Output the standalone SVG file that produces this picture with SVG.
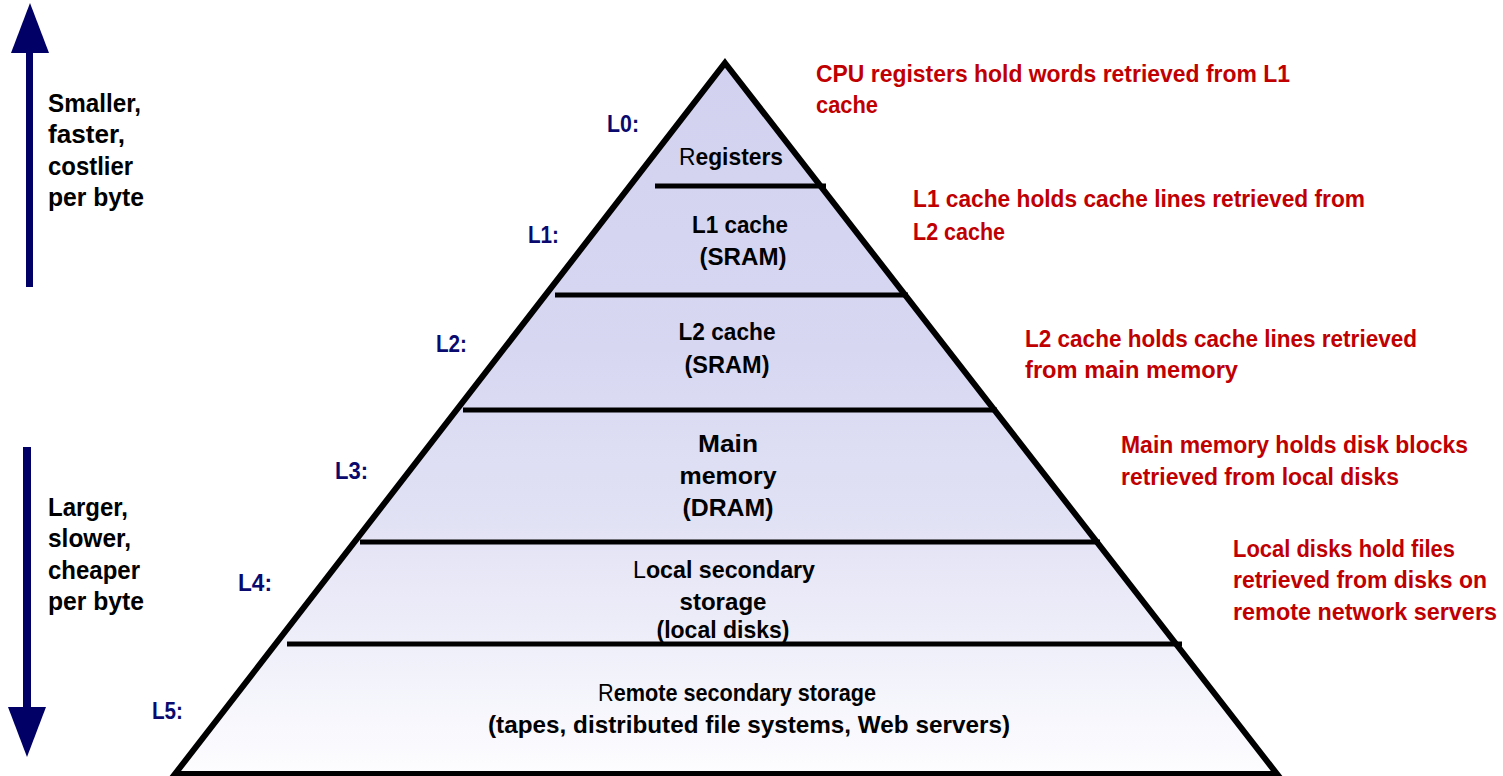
<svg xmlns="http://www.w3.org/2000/svg" width="1503" height="776" viewBox="0 0 1503 776">
<defs>
<linearGradient id="pyrFill" x1="0" y1="63" x2="0" y2="774" gradientUnits="userSpaceOnUse">
<stop offset="0" stop-color="#d2d2f0"/>
<stop offset="0.4" stop-color="#d7d7f2"/>
<stop offset="0.65" stop-color="#e2e2f5"/>
<stop offset="1" stop-color="#fdfdff"/>
</linearGradient>
<style>
text{font-family:"Liberation Sans",Arial,sans-serif;font-weight:bold}
.lvl{font-size:24px;fill:#000;text-anchor:middle}
.note{font-size:24px;fill:#c00000}
.side{font-size:25px;fill:#000}
.lab{font-size:24px;fill:#0a0a6e}
.reg{font-weight:normal}
.div{stroke:#000;stroke-width:5;fill:none}
</style>
</defs>
<rect width="1503" height="776" fill="#fff"/>

<g id="pyramid">
<path d="M725,63 L1277,774 L175,774 Z" fill="url(#pyrFill)" stroke="#000" stroke-width="6" stroke-linejoin="miter"/>
<line class="div" x1="655" y1="186" x2="826" y2="186"/>
<line class="div" x1="555" y1="295" x2="908" y2="295"/>
<line class="div" x1="463" y1="410" x2="997" y2="410"/>
<line class="div" x1="360" y1="542" x2="1100" y2="542"/>
<line class="div" x1="287" y1="644" x2="1182" y2="644"/>
</g>

<g id="level-L0">
<text class="lab" x="607" y="132" textLength="32" lengthAdjust="spacingAndGlyphs">L0:</text>
<text class="lvl" x="731" y="165" textLength="104" lengthAdjust="spacingAndGlyphs"><tspan class="reg">R</tspan>egisters</text>
</g>
<g id="level-L1">
<text class="lab" x="528" y="243" textLength="31" lengthAdjust="spacingAndGlyphs">L1:</text>
<text class="lvl" x="740" y="233" textLength="96" lengthAdjust="spacingAndGlyphs">L1 cache</text>
<text class="lvl" x="743" y="265" textLength="87" lengthAdjust="spacingAndGlyphs">(SRAM)</text>
</g>
<g id="level-L2">
<text class="lab" x="436" y="352" textLength="31" lengthAdjust="spacingAndGlyphs">L2:</text>
<text class="lvl" x="727" y="340" textLength="97" lengthAdjust="spacingAndGlyphs">L2 cache</text>
<text class="lvl" x="727" y="373" textLength="85" lengthAdjust="spacingAndGlyphs">(SRAM)</text>
</g>
<g id="level-L3">
<text class="lab" x="335" y="479" textLength="33" lengthAdjust="spacingAndGlyphs">L3:</text>
<text class="lvl" x="728" y="452" textLength="60" lengthAdjust="spacingAndGlyphs">Main</text>
<text class="lvl" x="728" y="484" textLength="97" lengthAdjust="spacingAndGlyphs">memory</text>
<text class="lvl" x="728" y="516" textLength="91" lengthAdjust="spacingAndGlyphs">(DRAM)</text>
</g>
<g id="level-L4">
<text class="lab" x="238" y="591" textLength="34" lengthAdjust="spacingAndGlyphs">L4:</text>
<text class="lvl" x="724" y="578" textLength="182" lengthAdjust="spacingAndGlyphs"><tspan class="reg">L</tspan>ocal secondary</text>
<text class="lvl" x="723" y="610" textLength="87" lengthAdjust="spacingAndGlyphs">storage</text>
<text class="lvl" x="723" y="638" textLength="133" lengthAdjust="spacingAndGlyphs">(local disks)</text>
</g>
<g id="level-L5">
<text class="lab" x="152" y="719" textLength="31" lengthAdjust="spacingAndGlyphs">L5:</text>
<text class="lvl" x="737" y="701" textLength="278" lengthAdjust="spacingAndGlyphs"><tspan class="reg">R</tspan>emote secondary storage</text>
<text class="lvl" x="749" y="733" textLength="522" lengthAdjust="spacingAndGlyphs">(tapes, distributed file systems, Web servers)</text>
</g>

<g id="note-L0">
<text class="note" x="816" y="82" textLength="474" lengthAdjust="spacingAndGlyphs">CPU registers hold words retrieved from L1</text>
<text class="note" x="816" y="113" textLength="62" lengthAdjust="spacingAndGlyphs">cache</text>
</g>
<g id="note-L1">
<text class="note" x="913" y="207" textLength="452" lengthAdjust="spacingAndGlyphs">L1 cache holds cache lines retrieved from</text>
<text class="note" x="913" y="240" textLength="92" lengthAdjust="spacingAndGlyphs">L2 cache</text>
</g>
<g id="note-L2">
<text class="note" x="1025" y="347" textLength="392" lengthAdjust="spacingAndGlyphs">L2 cache holds cache lines retrieved</text>
<text class="note" x="1025" y="378" textLength="213" lengthAdjust="spacingAndGlyphs">from main memory</text>
</g>
<g id="note-L3">
<text class="note" x="1121" y="453" textLength="347" lengthAdjust="spacingAndGlyphs">Main memory holds disk blocks</text>
<text class="note" x="1121" y="485" textLength="278" lengthAdjust="spacingAndGlyphs">retrieved from local disks</text>
</g>
<g id="note-L4">
<text class="note" x="1233" y="557" textLength="222" lengthAdjust="spacingAndGlyphs">Local disks hold files</text>
<text class="note" x="1233" y="588" textLength="254" lengthAdjust="spacingAndGlyphs">retrieved from disks on</text>
<text class="note" x="1233" y="620" textLength="264" lengthAdjust="spacingAndGlyphs">remote network servers</text>
</g>

<g id="connectors">
<g id="arrow-up" fill="#000066">
<rect x="26" y="50" width="7" height="237"/>
<polygon points="30,3 49,53 11,53"/>
</g>
<g id="arrow-down" fill="#000066">
<rect x="23" y="447" width="8" height="262"/>
<polygon points="8,707 46,707 27,757"/>
</g>
</g>

<g id="label-up">
<text class="side" x="48" y="112" textLength="93" lengthAdjust="spacingAndGlyphs">Smaller,</text>
<text class="side" x="48" y="143" textLength="77" lengthAdjust="spacingAndGlyphs">faster,</text>
<text class="side" x="48" y="175" textLength="85" lengthAdjust="spacingAndGlyphs">costlier</text>
<text class="side" x="48" y="206" textLength="96" lengthAdjust="spacingAndGlyphs">per byte</text>
</g>
<g id="label-down">
<text class="side" x="48" y="516" textLength="80" lengthAdjust="spacingAndGlyphs">Larger,</text>
<text class="side" x="48" y="547" textLength="83" lengthAdjust="spacingAndGlyphs">slower,</text>
<text class="side" x="48" y="579" textLength="92" lengthAdjust="spacingAndGlyphs">cheaper</text>
<text class="side" x="48" y="610" textLength="96" lengthAdjust="spacingAndGlyphs">per byte</text>
</g>
</svg>
